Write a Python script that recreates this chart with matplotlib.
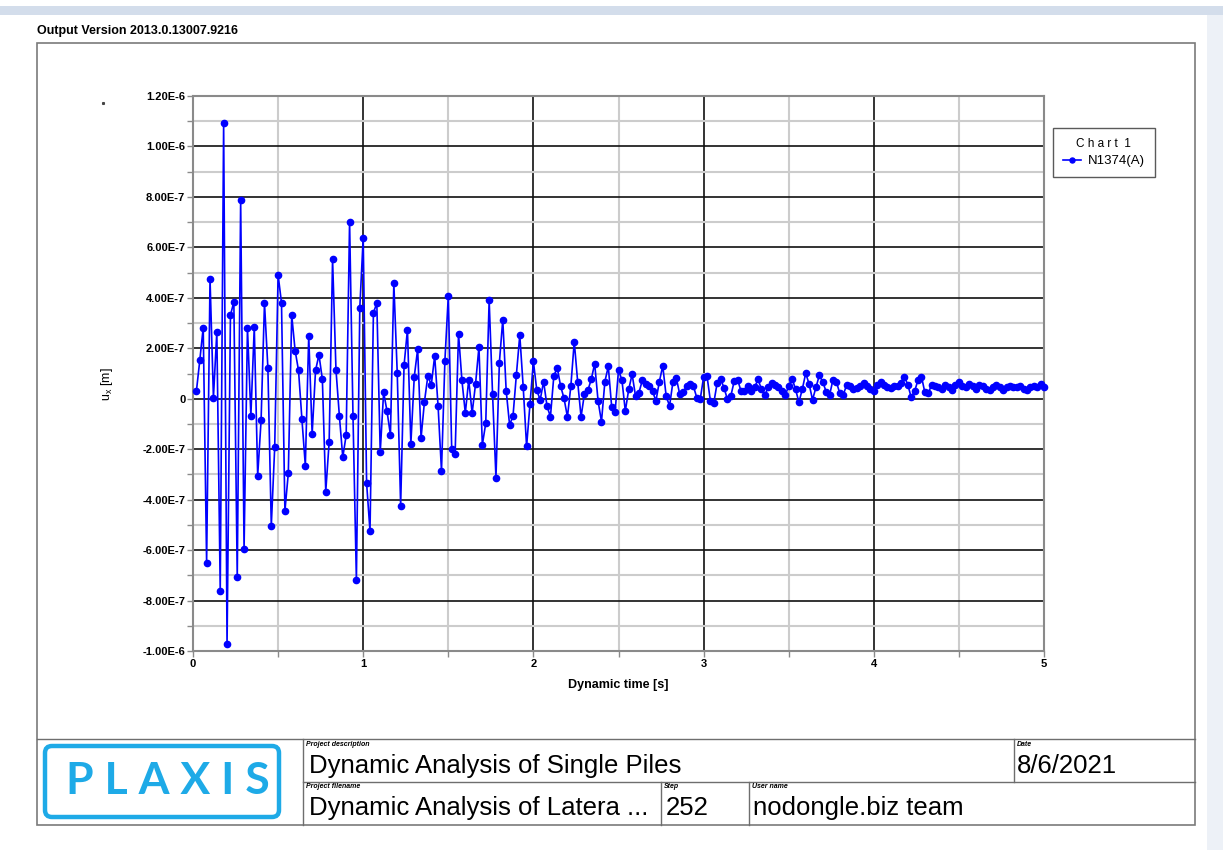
import numpy as np
import matplotlib
matplotlib.use('Agg')
import matplotlib.pyplot as plt
from matplotlib.patches import Rectangle, FancyBboxPatch
from matplotlib.ticker import MultipleLocator

plt.rcParams['font.family'] = ['Liberation Sans', 'DejaVu Sans']

# u_x of node N1374(A) in units of 1E-7 m, one value per dynamic step of 0.02 s
ux_e7 = [
    0.30, 1.53, 2.82, -6.50, 4.76, 0.04, 2.65, -7.61, 10.92, -9.74,
    3.31, 3.84, -7.08, 7.87, -5.96, 2.82, -0.68, 2.85, -3.05, -0.86,
    3.80, 1.21, -5.04, -1.93, 4.91, 3.80, -4.45, -2.95, 3.31, 1.91,
    1.12, -0.82, -2.65, 2.49, -1.40, 1.12, 1.74, 0.78, -3.68, -1.71,
    5.54, 1.15, -0.68, -2.32, -1.44, 7.02, -0.68, -7.18, 3.60, 6.39,
    -3.35, -5.25, 3.40, 3.80, -2.12, 0.26, -0.50, -1.43, 4.58, 1.02,
    -4.24, 1.32, 2.74, -1.79, 0.87, 1.97, -1.55, -0.11, 0.91, 0.54,
    1.70, -0.30, -2.86, 1.51, 4.07, -1.99, -2.19, 2.58, 0.73, -0.57,
    0.75, -0.57, 0.58, 2.05, -1.83, -0.97, 3.91, 0.19, -3.13, 1.42,
    3.14, 0.32, -1.03, -0.70, 0.95, 2.52, 0.48, -1.89, -0.19, 1.48,
    0.33, -0.04, 0.68, -0.29, -0.72, 0.90, 1.23, 0.50, 0.01, -0.72,
    0.50, 2.26, 0.68, -0.72, 0.20, 0.33, 0.77, 1.39, -0.09, -0.91,
    0.68, 1.28, -0.33, -0.52, 1.13, 0.75, -0.49, 0.37, 0.97, 0.11,
    0.24, 0.73, 0.57, 0.50, 0.30, -0.09, 0.68, 1.30, 0.11, -0.29,
    0.68, 0.81, 0.17, 0.26, 0.50, 0.60, 0.50, 0.04, -0.03, 0.86,
    0.90, -0.09, -0.16, 0.64, 0.77, 0.44, -0.03, 0.11, 0.70, 0.75,
    0.30, 0.30, 0.50, 0.30, 0.46, 0.77, 0.37, 0.15, 0.45, 0.62,
    0.54, 0.45, 0.32, 0.14, 0.51, 0.80, 0.38, -0.14, 0.38, 1.01,
    0.58, -0.04, 0.45, 0.93, 0.67, 0.28, 0.14, 0.75, 0.67, 0.22,
    0.14, 0.54, 0.49, 0.38, 0.41, 0.51, 0.64, 0.49, 0.38, 0.30,
    0.54, 0.67, 0.54, 0.45, 0.41, 0.51, 0.49, 0.62, 0.88, 0.55,
    0.05, 0.30, 0.75, 0.88, 0.25, 0.22, 0.55, 0.50, 0.45, 0.38,
    0.55, 0.45, 0.35, 0.55, 0.65, 0.50, 0.45, 0.60, 0.50, 0.40,
    0.55, 0.50, 0.40, 0.35, 0.45, 0.55, 0.45, 0.35, 0.45, 0.50,
    0.45, 0.45, 0.50, 0.40, 0.35, 0.45, 0.50, 0.45, 0.60, 0.45,
]
dt = 0.02
time = dt * np.arange(1, len(ux_e7) + 1)
ux = np.array(ux_e7) * 1e-7

x_ticks = [0, 1, 2, 3, 4, 5]
y_ticks = [-1.0e-6, -8e-7, -6e-7, -4e-7, -2e-7, 0, 2e-7, 4e-7, 6e-7, 8e-7, 1.0e-6, 1.2e-6]
y_tick_labels = ['-1.00E-6', '-8.00E-7', '-6.00E-7', '-4.00E-7', '-2.00E-7', '0',
                 '2.00E-7', '4.00E-7', '6.00E-7', '8.00E-7', '1.00E-6', '1.20E-6']

W, H = 1223, 850
fig = plt.figure(figsize=(W / 100, H / 100), dpi=100)

# pixel-space layer for the frame, header and title block
deco = fig.add_axes([0, 0, 1, 1], zorder=0)
deco.set_xlim(0, W)
deco.set_ylim(H, 0)
deco.axis('off')

deco.add_patch(Rectangle((0, 6), W, 9, color='#d3ddeb', lw=0))
deco.add_patch(Rectangle((1207, 15), W - 1207, H - 15, color='#edf1f7', lw=0))
deco.text(37, 31, 'Output Version 2013.0.13007.9216', fontsize=9, fontweight='bold',
          ha='left', va='center')
deco.add_patch(Rectangle((37, 43), 1158, 782, fill=False, ec='#7a7a7a', lw=1.2))
deco.plot([103], [103], marker='s', ms=1.2, color='#444444')

# title block
line_kw = dict(color='#6e6e6e', lw=1.0)
deco.plot([37, 1195], [739, 739], **line_kw)
deco.plot([303, 1195], [782, 782], **line_kw)
deco.plot([303, 303], [739, 825], **line_kw)
deco.plot([1014, 1014], [739, 782], **line_kw)
deco.plot([661, 661], [782, 825], **line_kw)
deco.plot([749, 749], [782, 825], **line_kw)

logo_blue = '#1eaae7'
deco.add_patch(FancyBboxPatch((45, 746), 234, 71, boxstyle='round,pad=0,rounding_size=7',
                              fill=False, ec=logo_blue, lw=3.2))
deco.text(168, 781, 'P L A X I S', fontsize=32, fontweight='bold', color=logo_blue,
          ha='center', va='center', family=['Lato', 'DejaVu Sans'])

small_kw = dict(fontsize=5, fontstyle='italic', fontweight='bold', ha='left', va='center')
big_kw = dict(fontsize=18.5, ha='left', va='center')
deco.text(306, 744, 'Project description', **small_kw)
deco.text(309, 766, 'Dynamic Analysis of Single Piles', **big_kw)
deco.text(1017, 744, 'Date', **small_kw)
deco.text(1017, 766, '8/6/2021', **big_kw)
deco.text(306, 787, 'Project filename', **small_kw)
deco.text(309, 808, 'Dynamic Analysis of Latera ...', **big_kw)
deco.text(664, 787, 'Step', **small_kw)
deco.text(666, 808, '252', **big_kw)
deco.text(752, 787, 'User name', **small_kw)
deco.text(753, 808, 'nodongle.biz team', **big_kw)

# chart
left, right, top, bottom = 193, 1044, 96, 651
ax = fig.add_axes([left / W, 1 - bottom / H, (right - left) / W, (bottom - top) / H], zorder=1)
ax.plot(time, ux, color='#0000ff', lw=1.2, marker='o', ms=4.5, label='N1374(A)',
        clip_on=False, zorder=3)
ax.set_xlim(0, 5)
ax.set_ylim(-1.0e-6, 1.2e-6)
ax.set_xticks(x_ticks)
ax.set_xticklabels([str(v) for v in x_ticks], fontweight='bold')
ax.set_yticks(y_ticks)
ax.set_yticklabels(y_tick_labels, fontweight='bold')
ax.xaxis.set_minor_locator(MultipleLocator(0.5))
ax.yaxis.set_minor_locator(MultipleLocator(1e-7))
ax.grid(which='minor', color='#cccccc', lw=1.5)
ax.grid(which='major', color='#111111', lw=1.2)
ax.set_axisbelow(True)
ax.tick_params(which='both', direction='out', length=4, width=1, color='#8a8a8a',
               labelsize=8, pad=1.5)
for s in ax.spines.values():
    s.set_color('#8a8a8a')
    s.set_linewidth(1.5)

ax.set_xlabel('Dynamic time [s]', fontsize=9, fontweight='bold')
ax.xaxis.set_label_coords(0.4994, -0.051)
ax.set_ylabel(r'u$_\mathregular{x}$ [m]', fontsize=9)
ax.yaxis.set_label_coords(-0.092, 0.48)

leg = ax.legend(loc='upper left', bbox_to_anchor=(1053 / W, 1 - 128 / H),
                bbox_transform=fig.transFigure, title='C h a r t  1', fontsize=9.5,
                title_fontsize=8.5, fancybox=False, edgecolor='#5a5a5a', framealpha=1,
                borderaxespad=0, borderpad=0.75, handlelength=1.4, handletextpad=0.5,
                labelspacing=0.4, markerscale=0.8)
leg.get_frame().set_linewidth(1.0)

fig.savefig('out.png', dpi=100)
